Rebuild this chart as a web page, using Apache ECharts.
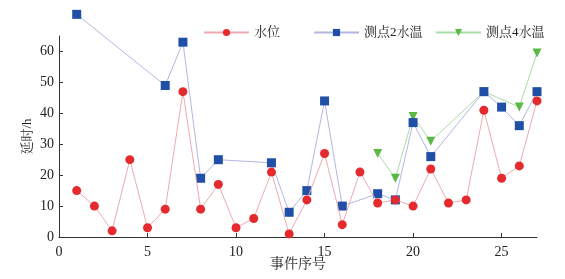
<!DOCTYPE html>
<html>
<head>
<meta charset="utf-8">
<script src="https://cdn.jsdelivr.net/npm/echarts@6/dist/echarts.min.js"></script>
<style>
  html, body { margin: 0; padding: 0; background: #fff; }
  #chart { width: 565px; height: 279px; }
</style>
</head>
<body>
<div id="chart"></div>
<script>
// event index -> delay (h)
const waterLevelX = [1, 2, 3, 4, 5, 6, 7, 8, 9, 10, 11, 12, 13, 14, 15, 16, 17, 18, 19, 20, 21, 22, 23, 24, 25, 26, 27];
const waterLevelY = [15, 10, 2, 25, 3, 9, 47, 9, 17, 3, 6, 21, 1, 12, 27, 4, 21, 11, 12, 10, 22, 11, 12, 41, 19, 23, 44];

const temp2X = [1, 6, 7, 8, 9, 12, 13, 14, 15, 16, 18, 19, 20, 21, 24, 25, 26, 27];
const temp2Y = [72, 49, 63, 19, 25, 24, 8, 15, 44, 10, 14, 12, 37, 26, 47, 42, 36, 47];

const temp4X = [18, 19, 20, 21, 24, 26, 27];
const temp4Y = [27, 19, 39, 31, 47, 42, 59.5];

const seriesNames = ['水位', '测点2水温', '测点4水温'];

const pairs = (xs, ys) => xs.map((x, i) => [x, ys[i]]);

const serif = "'Liberation Serif', 'Noto Serif CJK SC', 'Noto Sans CJK SC', serif";

// the legend gaps in the source are uneven, so one legend per entry
const legendLeft = [203, 313, 435];
const legends = seriesNames.map((name, i) => ({
  left: legendLeft[i],
  top: 26,
  padding: 0,
  itemWidth: 45,
  itemHeight: 9,
  textStyle: { fontFamily: serif, fontSize: 13, color: '#222' },
  data: [name]
}));

const chart = echarts.init(document.getElementById('chart'));

chart.setOption({
  animation: false,
  grid: { left: 59, right: 28, top: 36, bottom: 42 },
  legend: legends,
  xAxis: {
    type: 'value',
    min: 0,
    max: 27,
    interval: 5,
    name: '事件序号',
    nameLocation: 'middle',
    nameGap: 20,
    nameMoveOverlap: false,
    nameTextStyle: { fontFamily: serif, fontSize: 14, color: '#222' },
    axisLine: { lineStyle: { color: '#333', width: 1 } },
    axisTick: { inside: true, length: 4, lineStyle: { color: '#333' } },
    axisLabel: { fontFamily: serif, fontSize: 14, color: '#222', margin: 8, showMaxLabel: false },
    splitLine: { show: false }
  },
  yAxis: {
    type: 'value',
    min: 0,
    max: 65,
    interval: 10,
    name: '延时/h',
    nameLocation: 'middle',
    nameGap: 25,
    nameMoveOverlap: false,
    nameRotate: 90,
    nameTextStyle: { fontFamily: serif, fontSize: 13, color: '#222' },
    axisLine: { show: true, lineStyle: { color: '#333', width: 1 } },
    axisTick: { show: true, inside: true, length: 4, lineStyle: { color: '#333' } },
    axisLabel: { fontFamily: serif, fontSize: 14, color: '#222', margin: 5, showMaxLabel: false },
    splitLine: { show: false }
  },
  series: [
    {
      name: seriesNames[0],
      type: 'line',
      data: pairs(waterLevelX, waterLevelY),
      symbol: 'circle',
      symbolSize: 9,
      clip: false,
      itemStyle: { color: '#e52a2e' },
      lineStyle: { color: '#eeaab0', width: 1 },
      z: 3
    },
    {
      name: seriesNames[1],
      type: 'line',
      data: pairs(temp2X, temp2Y),
      symbol: 'rect',
      symbolSize: 9,
      clip: false,
      itemStyle: { color: '#1f4fa6' },
      lineStyle: { color: '#b2b6e2', width: 1 },
      z: 2
    },
    {
      name: seriesNames[2],
      type: 'line',
      data: pairs(temp4X, temp4Y),
      symbol: 'triangle',
      symbolRotate: 180,
      symbolSize: 9,
      clip: false,
      itemStyle: { color: '#5bb845' },
      lineStyle: { color: '#a9dca6', width: 1 },
      z: 1
    }
  ]
});

window.addEventListener('resize', chart.resize);
</script>
</body>
</html>
